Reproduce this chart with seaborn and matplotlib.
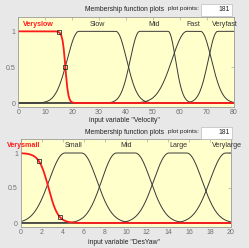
import numpy as np
import pandas as pd
import matplotlib
matplotlib.use('Agg')
import matplotlib.pyplot as plt
import seaborn as sns
from matplotlib.patches import Rectangle

# membership functions
plot_points = 181

vel_range = [0, 80]
vel_names = ['Veryslow', 'Slow', 'Mid', 'Fast', 'Veryfast']
vel_sig = [-1.84, 17.5]          # Veryslow: sigmf [a c]
vel_gauss2 = [[4.3, 22.5, 3.96, 36.3],   # Slow  [s1 c1 s2 c2]
              [3.47, 45.1, 2.69, 55.75],  # Mid
              [5.54, 62.7, 4.0, 67.8],    # Fast
              [3.45, 74.1, 3.0, 85.0]]    # Veryfast
vel_marks = [15.2, 17.5]
vel_xticks = [0, 10, 20, 30, 40, 50, 60, 70, 80]

yaw_range = [0, 20]
yaw_names = ['Verysmall', 'Small', 'Mid', 'Large', 'Verylarge']
yaw_sig = [-2.2, 2.65]           # Verysmall: sigmf [a c]
yaw_gauss2 = [[1.5, 4.2, 1.45, 5.8],
              [1.4, 9.1, 1.45, 10.9],
              [1.45, 14.1, 1.45, 15.8],
              [1.5, 19.5, 1.5, 21.0]]
yaw_marks = [1.7, 3.7]
yaw_xticks = [0, 2, 4, 6, 8, 10, 12, 14, 16, 18, 20]


def sigmf(x, a, c):
    return 1.0 / (1.0 + np.exp(-a * (x - c)))


def gauss2mf(x, s1, c1, s2, c2):
    y = np.ones_like(x)
    y = np.where(x < c1, np.exp(-(x - c1) ** 2 / (2 * s1 ** 2)), y)
    y = np.where(x > c2, y * np.exp(-(x - c2) ** 2 / (2 * s2 ** 2)), y)
    return y


def build(rng, names, sig, gauss):
    x = np.linspace(rng[0], rng[1], plot_points)
    rows = [pd.DataFrame({'x': x, 'mu': sigmf(x, *sig), 'mf': names[0]})]
    for n, p in zip(names[1:], gauss):
        rows.append(pd.DataFrame({'x': x, 'mu': gauss2mf(x, *p), 'mf': n}))
    return pd.concat(rows, ignore_index=True)


df_vel = build(vel_range, vel_names, vel_sig, vel_gauss2)
df_yaw = build(yaw_range, yaw_names, yaw_sig, yaw_gauss2)

sns.set_theme(style='white')
plt.rcParams['font.family'] = ['Liberation Sans', 'DejaVu Sans']

bg = '#e8e8e8'
fig = plt.figure(figsize=(2.49, 2.48), dpi=100, facecolor=bg)

W, H = 249.0, 248.0


def px(x, y):
    return x / W, 1 - y / H


def panel(rect, df, names, sig, marks, rng, xticks, xlabel, head_y, label_y):
    ax = fig.add_axes(rect)
    ax.set_facecolor('#ffffcc')
    # black curves first, selected (red) one on top
    for n in names[1:]:
        d = df[df['mf'] == n]
        sns.lineplot(data=d, x='x', y='mu', ax=ax, color='#383838', lw=0.7,
                     sort=False, errorbar=None, legend=False)
    d = df[df['mf'] == names[0]]
    sns.lineplot(data=d, x='x', y='mu', ax=ax, color='#ff1a1a', lw=1.3,
                 sort=False, errorbar=None, legend=False)
    mx = np.array(marks)
    ax.plot(mx, sigmf(mx, *sig), ls='none', marker='s', ms=2.3, mfc='none',
            mec='#202020', mew=0.55)
    # mf names above the plateau
    for n in names:
        d = df[df['mf'] == n]
        top = d[d['mu'] >= 0.99]['x']
        xc = (top.min() + top.max()) / 2
        if n == names[0]:
            ax.text(xc, 1.1, n, color='#ff1a1a', fontsize=5.1, fontweight='bold',
                    ha='center', va='center', clip_on=False)
        else:
            ax.text(xc, 1.1, n, color='#333333', fontsize=5.1,
                    ha='center', va='center', clip_on=False)
    ax.set_xlim(rng)
    ax.set_ylim(-0.05, 1.2)
    ax.set_xticks(xticks)
    ax.set_yticks([0, 0.5, 1])
    ax.set_yticklabels(['0', '0.5', '1'])
    ax.set_xlabel('')
    ax.set_ylabel('')
    ax.tick_params(direction='in', length=2, width=0.4, colors='#9a9a9a',
                   labelcolor='#707070', labelsize=5.0, pad=2,
                   top=True, right=True)
    for s in ax.spines.values():
        s.set_color('#9a9a9a')
        s.set_linewidth(0.6)
    # header row and x label
    fig.text(*px(124.7, head_y), 'Membership function plots', fontsize=4.9,
             color='#222222', ha='center', va='center')
    fig.text(*px(183, head_y - 1), 'plot points:', fontsize=4.6,
             color='#222222', ha='center', va='center')
    bx0, by0 = px(201, head_y + 6.5)
    fig.patches.append(Rectangle((bx0, by0), 31 / W, 12.5 / H, transform=fig.transFigure,
                                 facecolor='white', edgecolor='#b0b0b0', lw=0.4))
    fig.text(*px(230, head_y), str(plot_points), fontsize=4.9,
             color='#222222', ha='right', va='center')
    fig.text(*px(124, label_y), xlabel, fontsize=4.9,
             color='#222222', ha='center', va='center')
    return ax


panel([18.3 / W, (H - 106.6) / H, 215.2 / W, 89.6 / H], df_vel, vel_names, vel_sig,
      vel_marks, vel_range, vel_xticks, 'input variable "Velocity"', 9.8, 120.5)
panel([20.7 / W, (H - 226.5) / H, 210.3 / W, 87.5 / H], df_yaw, yaw_names, yaw_sig,
      yaw_marks, yaw_range, yaw_xticks, 'input variable "DesYaw"', 132.5, 242.3)

fig.savefig('out.png', dpi=100, facecolor=bg)
